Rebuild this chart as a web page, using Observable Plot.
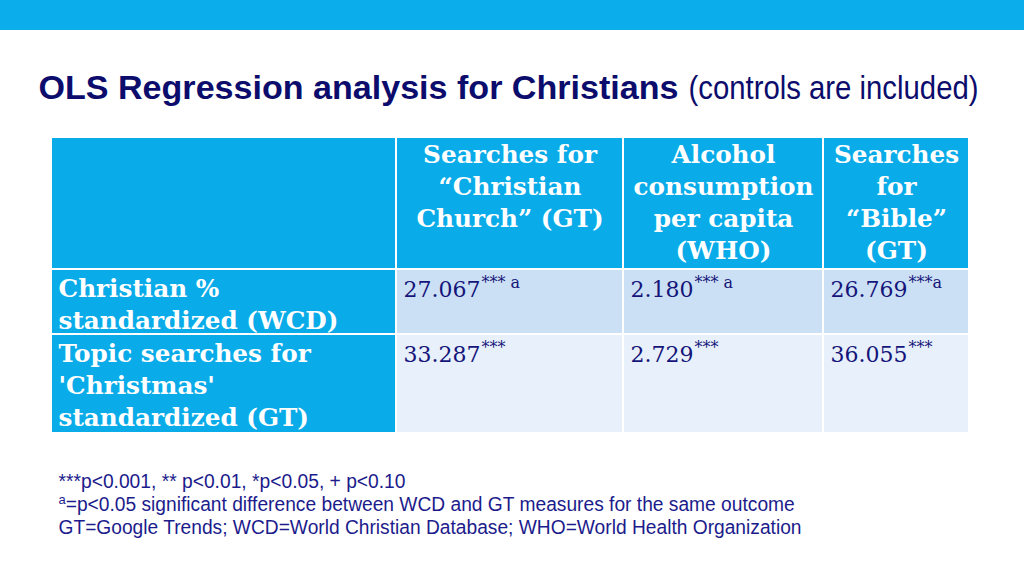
<!DOCTYPE html>
<html>
<head>
<meta charset="utf-8">
<script src="https://cdn.jsdelivr.net/npm/d3@7"></script>
<script src="https://cdn.jsdelivr.net/npm/@observablehq/plot@0.6"></script>
<style>
  html, body { margin: 0; padding: 0; background: #fff; }
  #chart { width: 1024px; height: 576px; overflow: hidden; }
</style>
</head>
<body>
<div id="chart"></div>
<script>
// ---------- data ----------
const titleBold = "OLS Regression analysis for Christians";
const titleRegular = "(controls are included)";
const columnHeaders = [
  ["Searches for", "\u201CChristian", "Church\u201D (GT)"],
  ["Alcohol", "consumption", "per capita", "(WHO)"],
  ["Searches", "for", "\u201CBible\u201D", "(GT)"]
];
const rowLabels = [
  ["Christian %", "standardized (WCD)"],
  ["Topic searches for", "'Christmas'", "standardized (GT)"]
];
const coefficients = [
  [27.067, 2.180, 26.769],
  [33.287, 2.729, 36.055]
];
const significance = [
  ["*** a", "*** a", "***a"],
  ["***", "***", "***"]
];
const footnoteLines = [
  {sup: "", text: "***p<0.001, ** p<0.01, *p<0.05, + p<0.10"},
  {sup: "a", text: "=p<0.05 significant difference between WCD and GT measures for the same outcome"},
  {sup: "", text: "GT=Google Trends; WCD=World Christian Database; WHO=World Health Organization"}
];

// ---------- layout & style ----------
const L = {
  width: 1024, height: 576,
  bar: {y1: 0, y2: 30, fill: "#0BADEB"},
  title: {x: 38, y: 98, size: 33, boldWidth: 640, gap: 10, regularWidth: 290, fill: "#0C0C6C"},
  table: {left: 52, colWidths: [343, 225, 198, 144], gap: 2, top: 138, rowHeights: [130, 63, 97]},
  headFill: "#0AABE9",
  rowFills: ["#CCE0F5", "#E8F1FB"],
  headBaseline: 24, bodyBaseline: 26, lineStep: 32, pad: 6,
  serif: "DejaVu Serif", sans: "Liberation Sans",
  labelFitText: "standardized (WCD)", labelFitWidth: 280,
  dataSize: 22, dataFill: "#15157A", supSize: 16, supRise: 9,
  foot: {x: 58, y: 487, step: 23, size: 20, supSize: 13, supRise: 7, widths: [347, 729, 743], fill: "#1C1C8C"}
};

const ctx = document.createElement("canvas").getContext("2d");
const textWidth = (s, font) => { ctx.font = font; return ctx.measureText(s).width; };

// fit serif size to the reference width of a label line
const serifSize = 24 * L.labelFitWidth / textWidth(L.labelFitText, `bold 24px "${L.serif}"`);
const fmt = d3.format(".3f");

// column & row edges
const colLeft = [], colRight = [];
{ let x = L.table.left; for (const w of L.table.colWidths) { colLeft.push(x); colRight.push(x + w); x += w + L.table.gap; } }
const rowTop = [], rowBottom = [];
{ let y = L.table.top; for (const h of L.table.rowHeights) { rowTop.push(y); rowBottom.push(y + h); y += h + L.table.gap; } }

// cells
const headCells = colLeft.map((x, c) => ({x1: x, x2: colRight[c], y1: rowTop[0], y2: rowBottom[0]}));
const labelCells = rowLabels.map((_, r) => ({x1: colLeft[0], x2: colRight[0], y1: rowTop[r + 1], y2: rowBottom[r + 1]}));
const dataCells = [];
coefficients.forEach((row, r) => row.forEach((v, c) => dataCells.push({
  r, c, x1: colLeft[c + 1], x2: colRight[c + 1], y1: rowTop[r + 1], y2: rowBottom[r + 1]
})));

// header text lines
const headLines = [];
columnHeaders.forEach((lines, c) => lines.forEach((t, i) => headLines.push({
  x: (colLeft[c + 1] + colRight[c + 1]) / 2, y: rowTop[0] + L.headBaseline + i * L.lineStep, t
})));
const labelLines = [];
rowLabels.forEach((lines, r) => lines.forEach((t, i) => labelLines.push({
  x: colLeft[0] + L.pad, y: rowTop[r + 1] + L.bodyBaseline + i * L.lineStep, t
})));
const valueTexts = [], supTexts = [];
coefficients.forEach((row, r) => row.forEach((v, c) => {
  const t = fmt(v);
  const x = colLeft[c + 1] + L.pad, y = rowTop[r + 1] + L.bodyBaseline;
  valueTexts.push({x, y, t});
  supTexts.push({x: x + textWidth(t, `${L.dataSize}px "${L.serif}"`) + 1, y: y - L.supRise, t: significance[r][c]});
}));

const footMain = footnoteLines.map((f, i) => ({
  x: L.foot.x + (f.sup ? textWidth(f.sup, `${L.foot.supSize}px "${L.sans}"`) : 0),
  y: L.foot.y + i * L.foot.step, t: f.text
}));
const footSup = footnoteLines.map((f, i) => ({x: L.foot.x, y: L.foot.y + i * L.foot.step - L.foot.supRise, t: f.sup})).filter(d => d.t);

const titleRegularX = L.title.x + L.title.boldWidth + L.title.gap;

const plot = Plot.plot({
  width: L.width, height: L.height,
  margin: 0,
  x: {domain: [0, L.width], range: [0, L.width], axis: null},
  y: {domain: [0, L.height], range: [0, L.height], axis: null},
  marks: [
    Plot.rect([L.bar], {x1: () => 0, x2: () => L.width, y1: "y1", y2: "y2", fill: L.bar.fill}),
    Plot.text([titleBold], {ariaDescription: "title-bold", x: () => L.title.x, y: () => L.title.y, text: d => d,
      textAnchor: "start", lineAnchor: "bottom", fontFamily: L.sans, fontWeight: "bold", fontSize: L.title.size, fill: L.title.fill}),
    Plot.text([titleRegular], {ariaDescription: "title-regular", x: () => titleRegularX, y: () => L.title.y, text: d => d,
      textAnchor: "start", lineAnchor: "bottom", fontFamily: L.sans, fontSize: L.title.size, fill: L.title.fill}),
    Plot.rect(headCells, {x1: "x1", x2: "x2", y1: "y1", y2: "y2", fill: L.headFill}),
    Plot.rect(labelCells, {x1: "x1", x2: "x2", y1: "y1", y2: "y2", fill: L.headFill}),
    Plot.rect(dataCells.filter(d => d.r === 0), {x1: "x1", x2: "x2", y1: "y1", y2: "y2", fill: L.rowFills[0]}),
    Plot.rect(dataCells.filter(d => d.r === 1), {x1: "x1", x2: "x2", y1: "y1", y2: "y2", fill: L.rowFills[1]}),
    Plot.text(headLines, {x: "x", y: "y", text: "t", textAnchor: "middle", lineAnchor: "bottom",
      fontFamily: L.serif, fontWeight: "bold", fontSize: serifSize, fill: "white"}),
    Plot.text(labelLines, {x: "x", y: "y", text: "t", textAnchor: "start", lineAnchor: "bottom",
      fontFamily: L.serif, fontWeight: "bold", fontSize: serifSize, fill: "white"}),
    Plot.text(valueTexts, {x: "x", y: "y", text: "t", textAnchor: "start", lineAnchor: "bottom",
      fontFamily: L.serif, fontSize: L.dataSize, fill: L.dataFill}),
    Plot.text(supTexts, {x: "x", y: "y", text: "t", textAnchor: "start", lineAnchor: "bottom",
      fontFamily: L.serif, fontSize: L.supSize, fill: L.dataFill}),
    Plot.text(footMain, {ariaDescription: "foot-main", x: "x", y: "y", text: "t", textAnchor: "start", lineAnchor: "bottom",
      fontFamily: L.sans, fontSize: L.foot.size, fill: L.foot.fill}),
    Plot.text(footSup, {x: "x", y: "y", text: "t", textAnchor: "start", lineAnchor: "bottom",
      fontFamily: L.sans, fontSize: L.foot.supSize, fill: L.foot.fill})
  ]
});
document.getElementById("chart").appendChild(plot);

// condensed sans texts: fit to the reference widths
function fit(desc, widths) {
  const g = [...plot.querySelectorAll("g")].find(el => el.getAttribute("aria-description") === desc);
  if (!g) return;
  g.querySelectorAll("text").forEach((t, i) => {
    if (widths[i] == null) return;
    t.setAttribute("textLength", widths[i]);
    t.setAttribute("lengthAdjust", "spacingAndGlyphs");
  });
}
fit("title-bold", [L.title.boldWidth]);
fit("title-regular", [L.title.regularWidth]);
fit("foot-main", L.foot.widths);
</script>
</body>
</html>
